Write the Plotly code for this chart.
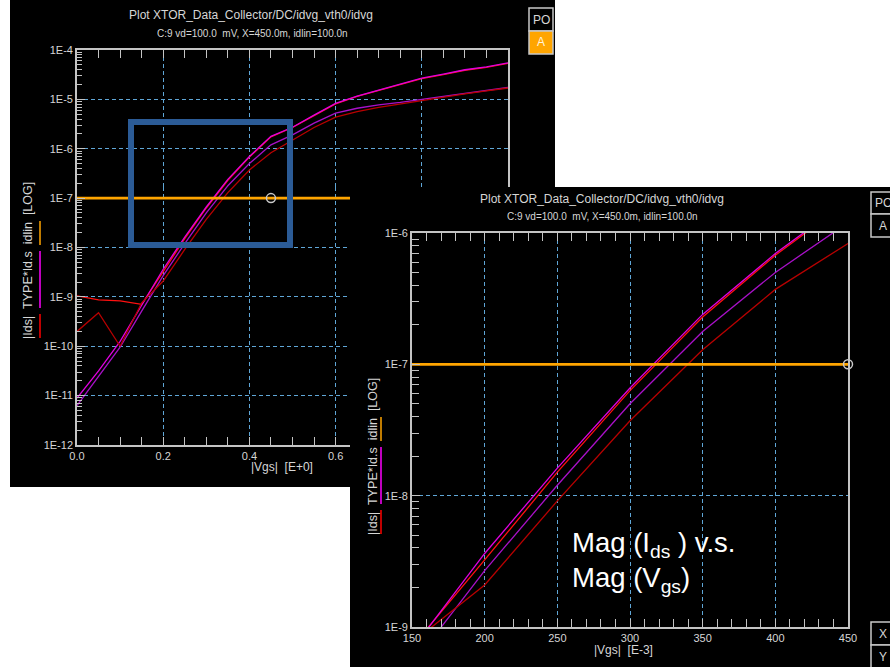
import plotly.graph_objects as go

W, H = 890, 667

# ---------------- data ----------------
vgs = [0.00, 0.05, 0.10, 0.15, 0.20, 0.25, 0.30, 0.35, 0.40, 0.45, 0.50,
       0.55, 0.60, 0.65, 0.70, 0.75, 0.80, 0.85, 0.90, 0.95, 1.00]

# TYPE*Id.s (magenta family)
ids_type_a = [8.9e-12, 3.16e-11, 1.26e-10, 6.76e-10, 3.63e-9, 1.62e-8, 6.61e-8,
              2.40e-7, 6.97e-7, 1.78e-6, 2.72e-6, 4.79e-6, 8.32e-6, 1.17e-5,
              1.55e-5, 2.00e-5, 2.69e-5, 3.24e-5, 3.98e-5, 4.57e-5, 5.50e-5]
ids_type_b = [6.31e-12, 2.40e-11, 9.55e-11, 5.13e-10, 2.69e-9, 1.20e-8, 5.01e-8,
              1.78e-7, 5.01e-7, 1.20e-6, 1.91e-6, 3.31e-6, 5.25e-6, 6.61e-6,
              7.76e-6, 8.71e-6, 1.00e-5, 1.15e-5, 1.32e-5, 1.51e-5, 1.74e-5]
# |Ids| (red family)
ids_abs_a = [1.05e-9, 8.71e-10, 8.32e-10, 7.08e-10, 3.24e-9, 1.51e-8, 6.31e-8,
             2.29e-7, 6.76e-7, 1.74e-6, 2.69e-6, 4.68e-6, 8.13e-6, 1.15e-5,
             1.51e-5, 1.95e-5, 2.63e-5, 3.16e-5, 3.89e-5, 4.47e-5, 5.37e-5]
ids_abs_b = [2.00e-10, 4.79e-10, 1.00e-10, 7.59e-10, 2.09e-9, 9.12e-9, 3.72e-8,
             1.29e-7, 3.72e-7, 8.32e-7, 1.51e-6, 2.69e-6, 4.37e-6, 5.62e-6,
             6.92e-6, 8.13e-6, 9.33e-6, 1.10e-5, 1.29e-5, 1.48e-5, 1.70e-5]
# idlin threshold line
idlin = [1.0e-7] * len(vgs)
cursor_vgs = [0.45]
cursor_id = [1.0e-7]

title_text = "Plot XTOR_Data_Collector/DC/idvg_vth0/idvg"
subtitle_text = "C:9 vd=100.0\u00a0\u00a0mV, X=450.0m, idlin=100.0n"
ylabel_text = "|Ids|\u00a0\u00a0TYPE*Id.s\u00a0\u00a0idlin\u00a0\u00a0[LOG]"
xlabel_left = "|Vgs|\u00a0\u00a0[E+0]"
xlabel_right = "|Vgs|\u00a0\u00a0[E-3]"

left_xtick_vals = [0.0, 0.2, 0.4, 0.6, 0.8, 1.0]
left_xtick_text = ["0.0", "0.2", "0.4", "0.6", "0.8", "1.0"]
right_xtick_vals = [150, 200, 250, 300, 350, 400, 450]
right_xtick_text = ["150", "200", "250", "300", "350", "400", "450"]
decades = [1e-12, 1e-11, 1e-10, 1e-9, 1e-8, 1e-7, 1e-6, 1e-5, 1e-4]
decade_text = ["1E-12", "1E-11", "1E-10", "1E-9", "1E-8", "1E-7", "1E-6", "1E-5", "1E-4"]

# ---------------- styling ----------------
C_MAG_A = "#e000e0"
C_MAG_B = "#a810c8"
C_RED_A = "#ff1010"
C_RED_B = "#b80000"
C_ORANGE = "#ffa500"
C_GRID = "#5fa6d6"
C_AXIS = "#c4c4c4"
C_TXT = "#d6d6d6"
FONT = "Liberation Sans"


def px(x):
    return x / W


def py(y):
    return 1 - y / H


minor_y = [k * d for d in decades[:-1] for k in range(2, 10)]

# left plot geometry (pixels)
L_X0, L_X1 = 77, 508          # Vgs 0 .. 1.0
L_Y0, L_Y1 = 50, 445          # 1E-4 .. 1E-12
CUT_X, CUT_Y = 350, 187       # where right panel covers the left one
dec_px = (L_Y1 - L_Y0) / 8.0
log_cut = -4 - (CUT_Y - L_Y0) / dec_px
v_cut = (CUT_X - L_X0) / (L_X1 - L_X0) * 1.0

fig = go.Figure()

curves = [
    (ids_abs_a, C_RED_A, "|Ids| a"),
    (ids_type_a, C_MAG_A, "TYPE*Id.s a"),
    (ids_type_b, C_MAG_B, "TYPE*Id.s b"),
    (ids_abs_b, C_RED_B, "|Ids| b"),
]
vgs_mv = [v * 1000 for v in vgs]
for xa, ya in [("x", "y"), ("x2", "y2"), ("x3", "y3")]:
    xs = vgs_mv if xa == "x3" else vgs
    for vals, col, name in curves:
        fig.add_trace(go.Scatter(x=xs, y=vals, mode="lines", name=name,
                                 line=dict(color=col, width=1.3),
                                 xaxis=xa, yaxis=ya, showlegend=False))
    fig.add_trace(go.Scatter(x=xs, y=idlin, mode="lines", name="idlin",
                             line=dict(color=C_ORANGE, width=2.6),
                             xaxis=xa, yaxis=ya, showlegend=False))

fig.add_trace(go.Scatter(x=cursor_vgs, y=cursor_id, mode="markers",
                         marker=dict(symbol="circle-open", size=9, color="#c8c8c8",
                                     line=dict(width=1.5)),
                         xaxis="x2", yaxis="y2", showlegend=False))
fig.add_trace(go.Scatter(x=[v * 1000 for v in cursor_vgs], y=cursor_id, mode="markers",
                         marker=dict(symbol="circle-open", size=9, color="#c8c8c8",
                                     line=dict(width=1.5)),
                         xaxis="x3", yaxis="y3", showlegend=False, cliponaxis=False))

tickfont = dict(family=FONT, size=11, color=C_TXT)
common = dict(showline=True, linecolor=C_AXIS, linewidth=1.6, ticks="inside",
              ticklen=8, tickwidth=1.4, tickcolor=C_AXIS, showgrid=True,
              gridcolor=C_GRID, gridwidth=1, griddash="4px,3px", zeroline=False,
              tickfont=tickfont, automargin=False)

layout = dict(
    width=W, height=H, margin=dict(l=0, r=0, t=0, b=0),
    paper_bgcolor="white", plot_bgcolor="rgba(0,0,0,0)", showlegend=False,
    # left plot, upper strip
    xaxis=dict(domain=[px(L_X0), px(L_X1)], range=[0, 1.0], anchor="y", side="top",
               tickmode="array", tickvals=left_xtick_vals, showticklabels=False,
               minor=dict(dtick=0.05, tick0=0, ticks="inside", ticklen=8, tickwidth=1.4,
                          tickcolor=C_AXIS, showgrid=False),
               **common),
    yaxis=dict(type="log", domain=[py(CUT_Y), py(L_Y0)], range=[log_cut, -4], anchor="x",
               tickmode="array", tickvals=decades, ticktext=decade_text, mirror=True,
               minor=dict(tickmode="array", tickvals=minor_y, ticks="inside", ticklen=5,
                          tickwidth=1.2, tickcolor=C_AXIS, showgrid=False),
               **common),
    # left plot, lower-left part
    xaxis2=dict(domain=[px(L_X0), px(CUT_X)], range=[0, v_cut], anchor="y2",
                tickmode="array", tickvals=left_xtick_vals, ticktext=left_xtick_text,
                minor=dict(dtick=0.05, tick0=0, ticks="inside", ticklen=8, tickwidth=1.4,
                           tickcolor=C_AXIS, showgrid=False),
                **common),
    yaxis2=dict(type="log", domain=[py(L_Y1), py(CUT_Y)], range=[-12, log_cut], anchor="x2",
                tickmode="array", tickvals=decades, ticktext=decade_text,
                minor=dict(tickmode="array", tickvals=minor_y, ticks="inside", ticklen=5,
                           tickwidth=1.2, tickcolor=C_AXIS, showgrid=False),
                **common),
    # right (zoomed) plot
    xaxis3=dict(domain=[px(412), px(848)], range=[150, 450], anchor="y3", mirror="ticks",
                tickmode="array", tickvals=right_xtick_vals, ticktext=right_xtick_text,
                minor=dict(dtick=10, tick0=150, ticks="inside", ticklen=8, tickwidth=1.4,
                           tickcolor=C_AXIS, showgrid=False),
                **common),
    yaxis3=dict(type="log", domain=[py(627), py(233)], range=[-9, -6], anchor="x3",
                mirror=True, tickmode="array", tickvals=decades, ticktext=decade_text,
                minor=dict(tickmode="array", tickvals=minor_y, ticks="inside", ticklen=7,
                           tickwidth=1.3, tickcolor=C_AXIS, showgrid=False),
                **common),
)
fig.update_layout(**layout)

shapes = []
# black panels
shapes.append(dict(type="rect", xref="paper", yref="paper", layer="below",
                   x0=px(10), x1=px(555), y0=py(487), y1=py(0),
                   fillcolor="black", line=dict(width=0)))
shapes.append(dict(type="rect", xref="paper", yref="paper", layer="below",
                   x0=px(350), x1=px(890), y0=py(667), y1=py(187),
                   fillcolor="black", line=dict(width=0)))
# highlight rectangle on the left plot
shapes.append(dict(type="rect", xref="paper", yref="paper", layer="above",
                   x0=px(131), x1=px(290), y0=py(245), y1=py(122),
                   fillcolor="rgba(0,0,0,0)", line=dict(color="#2b5b96", width=6)))


def box(x0, x1, y0, y1, fill):
    shapes.append(dict(type="rect", xref="paper", yref="paper", layer="above",
                       x0=px(x0), x1=px(x1), y0=py(y1), y1=py(y0),
                       fillcolor=fill, line=dict(color="#c8c8c8", width=1.5)))


box(529, 553, 8, 31, "black")
box(529, 553, 31, 54, C_ORANGE)
box(871, 896, 192, 214, "black")
box(871, 896, 214, 237, "black")
box(871, 896, 622, 645, "black")
box(871, 896, 645, 668, "black")


def vbar(x, y0, y1, col):
    shapes.append(dict(type="line", xref="paper", yref="paper", layer="above",
                       x0=px(x), x1=px(x), y0=py(y0), y1=py(y1),
                       line=dict(color=col, width=1.5)))


# colour keys next to the y-axis label words
for xk, c in [(40, 261), (381, 457)]:
    vbar(xk, c - 40, c - 16, C_ORANGE)
    vbar(xk, c - 10, c + 47, "#ff00ff")
    vbar(xk, c + 53, c + 77, "#ff0000")

fig.update_layout(shapes=shapes)

ann = []


def text(x, y, s, size, color=C_TXT, xanchor="center", angle=0):
    ann.append(dict(xref="paper", yref="paper", x=px(x), y=py(y), text=s,
                    showarrow=False, xanchor=xanchor, yanchor="middle", textangle=angle,
                    font=dict(family=FONT, size=size, color=color)))


text(251, 15, title_text, 12)
text(252, 33, subtitle_text, 10)
text(282, 467, xlabel_left, 12)
text(28, 261, ylabel_text, 12.5, angle=-90)
text(602, 199, title_text, 12)
text(602, 216, subtitle_text, 10)
text(623, 650, xlabel_right, 12)
text(373, 457, ylabel_text, 12.5, angle=-90)
text(541, 20, "PO", 12)
text(541, 42, "A", 12, color="#fff3dc")
text(873, 203, "PO", 12, xanchor="left")
text(883, 226, "A", 12)
text(883, 634, "X", 12)
text(883, 657, "Y", 12)
text(570, 544, "Mag (I<sub>ds</sub> ) v.s.", 27.5, color="white", xanchor="left")
text(570, 579, "Mag (V<sub>gs</sub>)", 27.5, color="white", xanchor="left")

fig.update_layout(annotations=ann)

fig.write_html("out.html",
               config={"displayModeBar": False},
               post_script="document.body.style.margin='0px';"
                           "document.body.style.padding='0px';"
                           "document.body.style.overflow='hidden';")
